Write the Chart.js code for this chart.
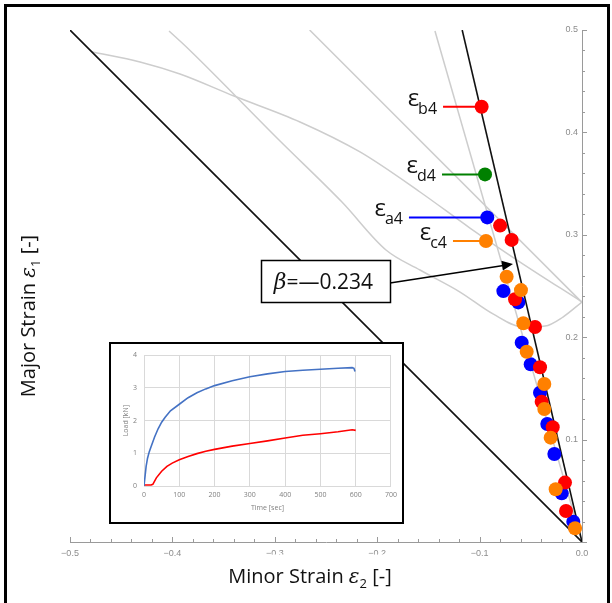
<!DOCTYPE html>
<html><head><meta charset="utf-8">
<script src="https://cdn.jsdelivr.net/npm/chart.js@4/dist/chart.umd.min.js"></script>
<style>
html,body{margin:0;padding:0;background:#fff;}
#wrap{position:relative;width:612px;height:603px;overflow:hidden;background:#fff;}
#main{position:absolute;left:0;top:0;}
#inset{position:absolute;left:109px;top:342px;width:291px;height:178px;border:2px solid #000;background:#fff;}
#insetc{display:block;}
</style></head><body>
<div id="wrap"><canvas id="main" width="612" height="603"></canvas>
<div id="inset"><canvas id="insetc" width="291" height="178"></canvas></div></div>
<script>
// ---------- main FLD data ----------
const xRange = [-0.5, 0];
const yRange = [0, 0.5];
const majorStep = 0.1;
const minorStep = 0.02;

// measured points (minor strain, major strain)
const bluePts   = [[-0.0925,0.317],[-0.0768,0.245],[-0.0622,0.234],[-0.0589,0.1947],[-0.0501,0.1735],[-0.041,0.1458],[-0.0339,0.1152],[-0.027,0.0859],[-0.0198,0.0475],[-0.0085,0.0198]];
const redPts    = [[-0.098,0.425],[-0.080,0.309],[-0.0687,0.295],[-0.0654,0.237],[-0.0459,0.210],[-0.041,0.1706],[-0.0394,0.137],[-0.0286,0.112],[-0.0166,0.058],[-0.0156,0.0303]];
const orangePts = [[-0.0938,0.294],[-0.0736,0.259],[-0.0596,0.246],[-0.0573,0.2136],[-0.054,0.1858],[-0.0368,0.1543],[-0.0368,0.1299],[-0.0306,0.1019],[-0.0257,0.0515],[-0.0068,0.0134]];
const greenPts  = [[-0.0947,0.359]];

// reference lines
const eqBiaxialLine = [[-0.5,0.5],[0,0]];
const betaLine      = [[-0.117,0.5],[0,0]];
// grey limit curves
const greyCurveU = [[-0.4033,0.4990],[-0.3848,0.4819],[-0.2949,0.3916],[-0.2344,0.3320],[-0.1914,0.2852],[-0.1582,0.2656],[-0.1191,0.2441],[-0.0869,0.2227],[-0.0576,0.2100],[-0.0361,0.2109],[-0.0186,0.2197],[0,0.2344]];
const greyCurveX = [[-0.4788,0.4788],[-0.4316,0.4688],[-0.3926,0.4570],[-0.3398,0.4355],[-0.2754,0.4102],[-0.2168,0.3809],[-0.1582,0.3418],[-0.1094,0.3066],[-0.0605,0.2734],[0,0.2344]];
const greyLineHill = [[-0.266,0.5],[0,0.234]];
const greyPath  = [[-0.1436,0.499],[0,0]];

// labels
const labelSubs   = ['b4','d4','a4','c4'];
const labelColors = ['#ff0000','#008000','#0000ff','#ff8000'];
const labelPoints = [[-0.098,0.425],[-0.0947,0.359],[-0.0925,0.317],[-0.0938,0.294]];
const labelStartX = [-0.1357,-0.1367,-0.169,-0.126];

const betaParts = ['β','=','—','0.234'];
const betaBoxCenter = [-0.2505,0.2549];
const betaArrowTip = [-0.0674,0.2715];

// ---------- inset data ----------
const blueLoad = [[0,0],[3,0.3],[6,0.6],[10,0.85],[15,1.05],[20,1.2],[30,1.5],[40,1.75],[50,1.95],[60,2.1],[75,2.3],[100,2.5],[125,2.7],[150,2.85],[175,2.97],[200,3.07],[250,3.22],[300,3.34],[350,3.43],[400,3.5],[450,3.54],[500,3.57],[550,3.6],[590,3.62],[595,3.6],[598,3.5]];
const redLoad  = [[0,0.03],[20,0.03],[25,0.05],[35,0.25],[50,0.45],[65,0.6],[80,0.7],[100,0.8],[125,0.9],[150,0.99],[175,1.06],[200,1.12],[250,1.22],[300,1.3],[350,1.38],[400,1.47],[450,1.55],[500,1.6],[550,1.66],[590,1.72],[600,1.7]];

const toXY = a => a.map(p => ({x:p[0], y:p[1]}));
const fmt = v => (v < -1e-9 ? '\u2212' : '') + Math.abs(v).toFixed(1);

const datasets = [];
[greyCurveU, greyCurveX].forEach(c => datasets.push({data:toXY(c), showLine:true, pointRadius:0, borderColor:'#cdcdcd', borderWidth:1.5, cubicInterpolationMode:'monotone', order:10}));
[greyLineHill, greyPath].forEach(c => datasets.push({data:toXY(c), showLine:true, pointRadius:0, borderColor:'#cdcdcd', borderWidth:1.5, order:10}));
[eqBiaxialLine, betaLine].forEach(c => datasets.push({data:toXY(c), showLine:true, pointRadius:0, borderColor:'#111', borderWidth:1.6, order:9}));
labelPoints.forEach((p,i) => datasets.push({data:[{x:labelStartX[i], y:p[1]},{x:p[0], y:p[1]}], showLine:true, pointRadius:0, borderColor:labelColors[i], borderWidth:2, order:8}));
const ptStyle = (pts, col, ord) => ({data:toXY(pts), showLine:false, pointRadius:7, pointHoverRadius:7, pointBorderWidth:0, backgroundColor:col, borderColor:col, order:ord});
datasets.push(ptStyle(bluePts,'#0000ff',4));
datasets.push(ptStyle(redPts,'#ff0000',3));
datasets.push(ptStyle(orangePts,'#ff8000',2));
datasets.push(ptStyle(greenPts,'#008000',1));

function drawRich(ctx, segs, x, y, align) {
  let w = 0;
  segs.forEach(s => { ctx.font = s.font; s.w = ctx.measureText(s.t).width; w += s.w; });
  let cx = align === 'center' ? x - w/2 : (align === 'right' ? x - w : x);
  ctx.textAlign = 'left'; ctx.textBaseline = 'alphabetic';
  segs.forEach(s => { ctx.font = s.font; ctx.fillStyle = s.color || '#111'; ctx.fillText(s.t, cx, y + (s.dy||0)); cx += s.w; });
  return w;
}

const annot = {
  id:'annot',
  afterDatasetsDraw(chart) {
    const ctx = chart.ctx, xs = chart.scales.x, ys = chart.scales.y, ca = chart.chartArea;
    ctx.save();
    // axis tick marks (Mathematica style)
    ctx.strokeStyle = '#9a9a9a'; ctx.lineWidth = 1;
    const nx = Math.round((xRange[1]-xRange[0])/minorStep);
    for (let i = 0; i <= nx; i++) {
      const v = xRange[0] + i*minorStep;
      const major = Math.abs(v/majorStep - Math.round(v/majorStep)) < 1e-6;
      const px = Math.round(xs.getPixelForValue(v)) + 0.5;
      ctx.beginPath(); ctx.moveTo(px, ca.bottom); ctx.lineTo(px, ca.bottom - (major?5:3)); ctx.stroke();
    }
    const ny = Math.round((yRange[1]-yRange[0])/minorStep);
    for (let i = 0; i <= ny; i++) {
      const v = yRange[0] + i*minorStep;
      const major = Math.abs(v/majorStep - Math.round(v/majorStep)) < 1e-6;
      const py = Math.round(ys.getPixelForValue(v)) + 0.5;
      ctx.beginPath(); ctx.moveTo(ca.right, py); ctx.lineTo(ca.right + (major?5:3), py); ctx.stroke();
    }
    // y tick labels, drawn left of the axis line
    ctx.font = '9px "Liberation Sans"'; ctx.fillStyle = '#8c8c8c'; ctx.textAlign = 'right'; ctx.textBaseline = 'middle';
    ys.ticks.forEach(t => { if (t.value > 1e-9) ctx.fillText(fmt(t.value), ca.right - 4, ys.getPixelForValue(t.value)); });
    // epsilon labels
    labelPoints.forEach((p,i) => {
      const xr = xs.getPixelForValue(labelStartX[i]) - 6;
      const py = ys.getPixelForValue(p[1]);
      ctx.font = '16px "Open Sans"'; const ws = ctx.measureText(labelSubs[i]).width;
      ctx.fillStyle = '#111'; ctx.textAlign = 'left'; ctx.textBaseline = 'alphabetic';
      ctx.fillText(labelSubs[i], xr - ws, py + 7);
      ctx.font = '500 24px "Open Sans"'; const we = ctx.measureText('ε').width;
      ctx.fillText('ε', xr - ws - we + 1, py - 1);
    });
    // beta box + arrow
    const bx = xs.getPixelForValue(betaBoxCenter[0]), by = ys.getPixelForValue(betaBoxCenter[1]);
    const bw = 129, bh = 42;
    const tx = xs.getPixelForValue(betaArrowTip[0]), ty = ys.getPixelForValue(betaArrowTip[1]);
    const sx = bx + bw/2, sy = by + 2;
    ctx.strokeStyle = '#000'; ctx.lineWidth = 1.5; ctx.fillStyle = '#000';
    const ang = Math.atan2(ty - sy, tx - sx);
    ctx.beginPath(); ctx.moveTo(sx, sy); ctx.lineTo(tx - 8*Math.cos(ang), ty - 8*Math.sin(ang)); ctx.stroke();
    ctx.beginPath(); ctx.moveTo(tx, ty);
    ctx.lineTo(tx - 11*Math.cos(ang) + 5*Math.sin(ang), ty - 11*Math.sin(ang) - 5*Math.cos(ang));
    ctx.lineTo(tx - 11*Math.cos(ang) - 5*Math.sin(ang), ty - 11*Math.sin(ang) + 5*Math.cos(ang));
    ctx.closePath(); ctx.fill();
    ctx.fillStyle = '#fff'; ctx.fillRect(bx - bw/2, by - bh/2, bw, bh);
    ctx.strokeRect(Math.round(bx - bw/2)+0.5, Math.round(by - bh/2)+0.5, bw, bh);
    drawRich(ctx, [
      {t:betaParts[0], font:'italic 22px "DejaVu Serif"'},
      {t:betaParts[1], font:'21px "Open Sans"'},
      {t:betaParts[2], font:'21px "Open Sans"'},
      {t:betaParts[3], font:'21px "Open Sans"'}
    ], bx - 2, by + 8, 'center');
    // x axis title on its own white box (covers lower half of two tick labels, as in the source)
    const tcx = ca.left + 240, tby = ca.bottom + 41;
    ctx.fillStyle = '#fff'; ctx.fillRect(tcx - 88, ca.bottom + 12.5, 176, 40);
    drawRich(ctx, [
      {t:'Minor Strain ', font:'20px "Open Sans"'},
      {t:'ε', font:'italic 20px "DejaVu Serif"'},
      {t:'2', font:'13px "Open Sans"', dy:5},
      {t:' [-]', font:'20px "Open Sans"'}
    ], tcx, tby, 'center');
    ctx.save(); ctx.translate(ca.left - 35, ca.top + 286); ctx.rotate(-Math.PI/2);
    drawRich(ctx, [
      {t:'Major Strain ', font:'20px "Open Sans"'},
      {t:'ε', font:'italic 20px "DejaVu Serif"'},
      {t:'1', font:'13px "Open Sans"', dy:5},
      {t:' [-]', font:'20px "Open Sans"'}
    ], 0, 0, 'center');
    ctx.restore();
    // outer frame
    ctx.strokeStyle = '#000'; ctx.lineWidth = 3;
    ctx.beginPath(); ctx.moveTo(5.5, 606); ctx.lineTo(5.5, 5.5); ctx.lineTo(608.5, 5.5); ctx.lineTo(608.5, 606); ctx.stroke();
    ctx.restore();
  }
};

new Chart(document.getElementById('main'), {
  type:'scatter',
  data:{datasets},
  options:{
    responsive:false, animation:false, devicePixelRatio:1,
    layout:{padding:{left:70, top:30, right:0, bottom:0}},
    plugins:{legend:{display:false}, tooltip:{enabled:false}},
    scales:{
      x:{type:'linear', min:xRange[0], max:xRange[1], position:'bottom',
        afterFit:s => { s.height = 61; },
        grid:{display:true, drawOnChartArea:false, drawTicks:false},
        border:{display:true, color:'#9a9a9a', width:1},
        ticks:{stepSize:majorStep, padding:6, color:'#8c8c8c', font:{size:9, family:'"Liberation Sans"'}, callback:v => fmt(v), maxRotation:0, autoSkip:false}},
      y:{type:'linear', min:yRange[0], max:yRange[1], position:'right',
        afterFit:s => { s.width = 30; },
        grid:{display:true, drawOnChartArea:false, drawTicks:false},
        border:{display:true, color:'#9a9a9a', width:1},
        ticks:{stepSize:majorStep, color:'rgba(0,0,0,0)', font:{size:9}, callback:() => ''}}
    }
  },
  plugins:[annot]
});

// ---------- inset chart ----------
const insetFont = {size:7, family:'"Open Sans"'};
new Chart(document.getElementById('insetc'), {
  type:'scatter',
  data:{datasets:[
    {data:toXY(blueLoad), showLine:true, pointRadius:0, borderColor:'#4472c4', borderWidth:1.6},
    {data:toXY(redLoad), showLine:true, pointRadius:0, borderColor:'#ff0000', borderWidth:1.6}
  ]},
  options:{
    responsive:false, animation:false, devicePixelRatio:1,
    layout:{padding:{left:0, top:9, right:9, bottom:0}},
    plugins:{legend:{display:false}, tooltip:{enabled:false}},
    scales:{
      x:{type:'linear', min:0, max:700, afterFit:s => { s.height = 36; },
        grid:{color:'#d9d9d9', drawTicks:false}, border:{color:'#d9d9d9'},
        ticks:{stepSize:100, padding:5, color:'#7f7f7f', font:insetFont, maxRotation:0},
        title:{display:true, text:'Time [sec]', color:'#7f7f7f', font:insetFont, padding:{top:0, bottom:10}}},
      y:{type:'linear', min:0, max:4, afterFit:s => { s.width = 33; },
        grid:{color:'#d9d9d9', drawTicks:false}, border:{color:'#d9d9d9'},
        ticks:{stepSize:1, padding:7, color:'#7f7f7f', font:insetFont},
        title:{display:true, text:'Load [kN]', color:'#7f7f7f', font:insetFont, padding:{top:11, bottom:0}}}
    }
  }
});
</script>
</body></html>
